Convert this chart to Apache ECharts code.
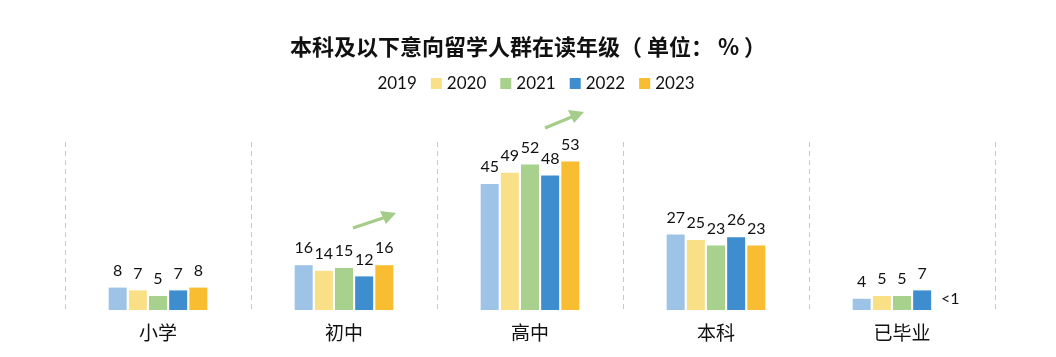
<!DOCTYPE html>
<html><head><meta charset="utf-8">
<script src="https://cdn.jsdelivr.net/npm/echarts@6/dist/echarts.min.js"></script>
<style>html,body{margin:0;padding:0;background:#fff}#c{width:1056px;height:357px}</style>
</head><body><div id="c"></div>
<script>
const categories = ['小学', '初中', '高中', '本科', '已毕业'];
const years = ['2019', '2020', '2021', '2022', '2023'];
const v2019 = [8, 16, 45, 27, 4];
const v2020 = [7, 14, 49, 25, 5];
const v2021 = [5, 15, 52, 23, 5];
const v2022 = [7, 12, 48, 26, 7];
const v2023 = [8, 16, 53, 23, 0];
const labels2023 = ['8', '16', '53', '23', '<1'];
const colors = ['#9DC3E6', '#F9DF86', '#A9D18E', '#3E8ECF', '#F8BD30'];
const allValues = [v2019, v2020, v2021, v2022, v2023];

const chart = echarts.init(document.getElementById('c'));
const numFont = 'Lato, "Noto Sans CJK SC", sans-serif';
const series = years.map((y, i) => ({
  name: y,
  type: 'bar',
  barWidth: 18,
  barGap: '12%',
  itemStyle: { color: colors[i] },
  label: {
    show: true, position: 'top', distance: 9,
    fontFamily: numFont, fontSize: 16, color: '#111',
    formatter: i === 4 ? (p => labels2023[p.dataIndex]) : '{c}'
  },
  data: allValues[i].map((v, k) => (i === 4 && k === 4)
    ? { value: v, label: { offset: [8, 6] } } : v)
}));

chart.setOption({
  animation: false,
  title: {
    text: '本科及以下意向留学人群在读年级（ 单位： % ）',
    left: 'center', top: 31,
    textStyle: { fontFamily: '"Noto Sans CJK SC", sans-serif', fontSize: 22, fontWeight: 'bold', color: '#111' }
  },
  legend: {
    top: 70, left: 'center',
    itemWidth: 11, itemHeight: 11, itemGap: 14,
    textStyle: { fontFamily: numFont, fontSize: 17, color: '#111' },
    data: years.map((y, i) => i === 0 ? { name: y, icon: 'none' } : { name: y, icon: 'rect' })
  },
  grid: { left: 65, right: 61, top: 142, bottom: 47 },
  xAxis: {
    type: 'category', data: categories,
    axisLine: { show: false }, axisTick: { show: false },
    axisLabel: { fontFamily: '"Noto Sans CJK SC", sans-serif', fontSize: 19, color: '#111', margin: 13 },
    splitLine: { show: true, lineStyle: { type: [5, 4], color: '#c8c8c8', width: 1 } }
  },
  yAxis: { type: 'value', min: 0, max: 60, show: false, splitLine: { show: false } },
  series: series,
  graphic: [
    { type: 'line', shape: { x1: 353, y1: 228, x2: 386, y2: 217 }, style: { stroke: '#A3CD88', lineWidth: 3 } },
    { type: 'polygon', shape: { points: [[396, 213], [380, 211], [386, 224]] }, style: { fill: '#A3CD88' } },
    { type: 'line', shape: { x1: 545, y1: 128, x2: 574, y2: 116 }, style: { stroke: '#A3CD88', lineWidth: 3 } },
    { type: 'polygon', shape: { points: [[584, 112], [568, 110], [574, 123]] }, style: { fill: '#A3CD88' } }
  ]
});
</script></body></html>
